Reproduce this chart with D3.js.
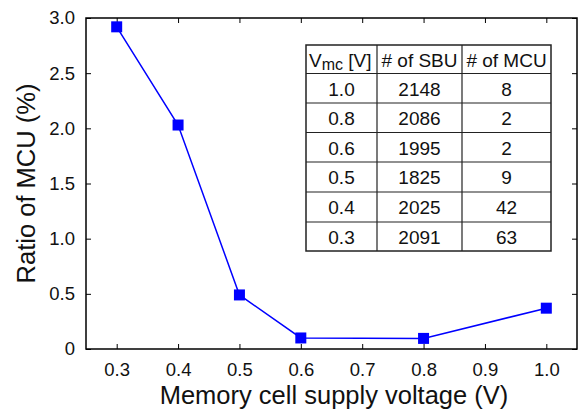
<!DOCTYPE html>
<html>
<head>
<meta charset="utf-8">
<script src="https://cdn.jsdelivr.net/npm/d3@7"></script>
<style>
  body { margin: 0; background: #fff; }
  svg { display: block; font-family: "Liberation Sans", Arial, sans-serif; }
</style>
</head>
<body>
<div id="chart"></div>
<script>
const WIDTH = 581;
const HEIGHT = 414;

// plotted series
const voltages = [0.3, 0.4, 0.5, 0.6, 0.8, 1.0];
const ratios = [2.92, 2.03, 0.49, 0.10, 0.096, 0.37];

// axis ticks
const xTicks = [0.3, 0.4, 0.5, 0.6, 0.7, 0.8, 0.9, 1.0];
const yTicks = [0, 0.5, 1.0, 1.5, 2.0, 2.5, 3.0];

// inset table
const tableHeader = ['V', '# of SBU', '# of MCU'];
const tableVmc = ['1.0', '0.8', '0.6', '0.5', '0.4', '0.3'];
const tableSBU = ['2148', '2086', '1995', '1825', '2025', '2091'];
const tableMCU = ['8', '2', '2', '9', '42', '63'];

const margin = { top: 18, right: 4, bottom: 65, left: 86 };
const w = WIDTH - margin.left - margin.right;
const h = HEIGHT - margin.top - margin.bottom;

const svg = d3.select('#chart')
  .append('svg')
  .attr('width', WIDTH)
  .attr('height', HEIGHT);

const g = svg.append('g')
  .attr('transform', `translate(${margin.left}, ${margin.top})`);

const x = d3.scaleLinear().domain([0.25, 1.05]).range([0, w]);
const y = d3.scaleLinear().domain([0, 3.0]).range([h, 0]);

const fmtY = (d) => (d === 0 ? '0' : d3.format('.1f')(d));

// bottom axis with inward ticks
const xa = g.append('g')
  .attr('transform', `translate(0, ${h})`)
  .call(d3.axisBottom(x).tickValues(xTicks).tickFormat(d3.format('.1f'))
    .tickSizeInner(-5).tickSizeOuter(0).tickPadding(14));
// top axis, ticks only
const xt = g.append('g')
  .call(d3.axisTop(x).tickValues(xTicks).tickFormat('')
    .tickSizeInner(-5).tickSizeOuter(0));
// left axis
const ya = g.append('g')
  .call(d3.axisLeft(y).tickValues(yTicks).tickFormat(fmtY)
    .tickSizeInner(-5).tickSizeOuter(0).tickPadding(11));
// right axis, ticks only
const yr = g.append('g')
  .attr('transform', `translate(${w}, 0)`)
  .call(d3.axisRight(y).tickValues(yTicks).tickFormat('')
    .tickSizeInner(-5).tickSizeOuter(0));

[xa, xt, ya, yr].forEach((a) => {
  a.select('.domain').remove();
  a.selectAll('line').attr('stroke', '#000').attr('stroke-width', 1);
  a.selectAll('text').attr('font-size', 18.5).attr('fill', '#111')
    .attr('font-family', '"Liberation Sans", Arial, sans-serif');
});

// frame
g.append('rect')
  .attr('width', w)
  .attr('height', h)
  .attr('fill', 'none')
  .attr('stroke', '#000')
  .attr('stroke-width', 1.5);

// series
const pts = voltages.map((v, i) => ({ v, r: ratios[i] }));
g.append('path')
  .datum(pts)
  .attr('fill', 'none')
  .attr('stroke', '#0000ff')
  .attr('stroke-width', 1.5)
  .attr('d', d3.line().x((d) => x(d.v)).y((d) => y(d.r)));

const ms = 11;
g.selectAll('rect.pt')
  .data(pts)
  .enter()
  .append('rect')
  .attr('class', 'pt')
  .attr('x', (d) => x(d.v) - ms / 2)
  .attr('y', (d) => y(d.r) - ms / 2)
  .attr('width', ms)
  .attr('height', ms)
  .attr('fill', '#0000ff');

// axis titles
svg.append('text')
  .attr('x', 334)
  .attr('y', 404)
  .attr('text-anchor', 'middle')
  .attr('font-size', 25.5)
  .attr('fill', '#111')
  .text('Memory cell supply voltage (V)');

svg.append('text')
  .attr('transform', `translate(35, ${margin.top + h / 2}) rotate(-90)`)
  .attr('text-anchor', 'middle')
  .attr('font-size', 25.5)
  .attr('fill', '#111')
  .text('Ratio of MCU (%)');

// inset table
const tb = svg.append('g').attr('transform', 'translate(306, 45)');
const colX = [0, 71, 156, 245];
const rowY = [0, 28.5, 58, 87.5, 117, 147, 177, 206];
const rows = tableVmc.map((v, i) => [v, tableSBU[i], tableMCU[i]]);

tb.append('rect')
  .attr('width', colX[3])
  .attr('height', rowY[7])
  .attr('fill', '#fff')
  .attr('stroke', '#222')
  .attr('stroke-width', 1.5);

tb.selectAll('line.h')
  .data(rowY.slice(1, 7))
  .enter()
  .append('line')
  .attr('x1', 0).attr('x2', colX[3])
  .attr('y1', (d) => d).attr('y2', (d) => d)
  .attr('stroke', '#222').attr('stroke-width', 1.2);

tb.selectAll('line.v')
  .data(colX.slice(1, 3))
  .enter()
  .append('line')
  .attr('y1', 0).attr('y2', rowY[7])
  .attr('x1', (d) => d).attr('x2', (d) => d)
  .attr('stroke', '#222').attr('stroke-width', 1.2);

const head = tb.append('g');
const vmc = head.append('text')
  .attr('x', 3)
  .attr('y', 21.5)
  .attr('font-size', 19)
  .attr('fill', '#111');
vmc.append('tspan').text(tableHeader[0]);
vmc.append('tspan').attr('font-size', 16).attr('dy', 3).text('mc');
vmc.append('tspan').attr('dy', -3).text(' [V]');

head.selectAll('text.hc')
  .data(tableHeader.slice(1))
  .enter()
  .append('text')
  .attr('x', (d, i) => (colX[i + 1] + colX[i + 2]) / 2)
  .attr('y', 21.5)
  .attr('text-anchor', 'middle')
  .attr('font-size', 19)
  .attr('fill', '#111')
  .text((d) => d);

rows.forEach((r, ri) => {
  tb.selectAll(`text.r${ri}`)
    .data(r)
    .enter()
    .append('text')
    .attr('x', (d, ci) => (colX[ci] + colX[ci + 1]) / 2)
    .attr('y', rowY[ri + 1] + 22)
    .attr('text-anchor', 'middle')
    .attr('font-size', 19)
    .attr('fill', '#111')
    .text((d) => d);
});
</script>
</body>
</html>
